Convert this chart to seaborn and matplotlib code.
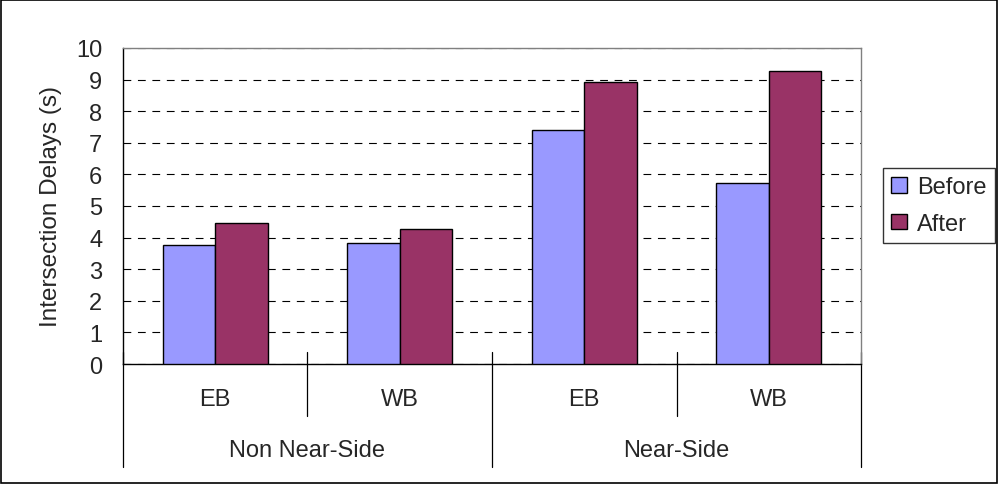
import matplotlib
matplotlib.use("Agg")
import matplotlib.pyplot as plt
import matplotlib.patches as mpatches
from matplotlib.lines import Line2D
import seaborn as sns
import pandas as pd

# Data
directions = ["EB", "WB", "EB", "WB"]
groups = ["Non Near-Side", "Near-Side"]
before = [3.77, 3.82, 7.41, 5.74]
after = [4.46, 4.28, 8.91, 9.28]
series = ["Before", "After"]
colors = ["#9999FF", "#993366"]
yticks = list(range(0, 11))

sns.set_style("white")
plt.rcParams["font.family"] = ["Liberation Sans", "DejaVu Sans"]
FS = 17

rows = []
for i in range(len(directions)):
    rows.append({"slot": i, "series": "Before", "value": before[i]})
    rows.append({"slot": i, "series": "After", "value": after[i]})
df = pd.DataFrame(rows)

fig = plt.figure(figsize=(9.99, 4.85), dpi=100)
ax = fig.add_axes([0.1231, 0.2474, 0.7388, 0.6516])

sns.barplot(data=df, x="slot", y="value", hue="series", hue_order=series,
            palette=colors, width=0.57, edgecolor="black", linewidth=1.0,
            saturation=1, ax=ax, legend=False, zorder=3)

ax.set_xlim(-0.5, 3.5)
ax.set_ylim(0, 10)
ax.set_yticks(yticks)
ax.set_yticklabels([str(t) for t in yticks], fontsize=FS)
ax.set_xticks([])
ax.set_xlabel("")
ax.set_ylabel("Intersection Delays (s)", fontsize=17.5, labelpad=10)
ax.yaxis.grid(True, color="black", linestyle=(0, (7, 6)), linewidth=0.8, zorder=0)
ax.tick_params(axis="y", length=0, pad=15, left=True)

for side in ["top", "right"]:
    ax.spines[side].set_color("#808080")
    ax.spines[side].set_linewidth(1)
for side in ["left", "bottom"]:
    ax.spines[side].set_color("black")
    ax.spines[side].set_linewidth(1)

# Two-level category axis: separators and labels below the plot
trans = ax.get_xaxis_transform()
px = 1.0 / (0.6516 * 485)  # one pixel in axes-y units
inner_bottom = -52 * px
outer_bottom = -103 * px
for x in [0.5, 2.5]:
    ax.add_line(Line2D([x, x], [12 * px, inner_bottom], transform=trans,
                       color="black", linewidth=0.9, clip_on=False))
for x in [-0.5, 1.5, 3.5]:
    ax.add_line(Line2D([x, x], [12 * px, outer_bottom], transform=trans,
                       color="black", linewidth=0.9, clip_on=False))
for i, d in enumerate(directions):
    ax.text(i, -35 * px, d, transform=trans, ha="center", va="center", fontsize=FS)
for g, label in enumerate(groups):
    ax.text(2 * g + 0.5, -86 * px, label, transform=trans, ha="center", va="center",
            fontsize=FS)

# Legend
handles = [mpatches.Patch(facecolor=c, edgecolor="black", linewidth=1, label=s)
           for c, s in zip(colors, series)]
leg = fig.legend(handles=handles, loc="upper left", bbox_to_anchor=(0.8838, 0.652),
                 fontsize=FS, frameon=True, fancybox=False, handlelength=0.65,
                 handleheight=0.65, handletextpad=0.45, borderpad=0.35,
                 labelspacing=0.62, borderaxespad=0)
leg.get_frame().set_edgecolor("black")
leg.get_frame().set_linewidth(1)

# Outer chart border
fig.patches.append(mpatches.Rectangle((0.001, 0.002), 0.997, 0.996, transform=fig.transFigure,
                                      fill=False, edgecolor="black", linewidth=1.2))

fig.savefig("out.png", dpi=100)
